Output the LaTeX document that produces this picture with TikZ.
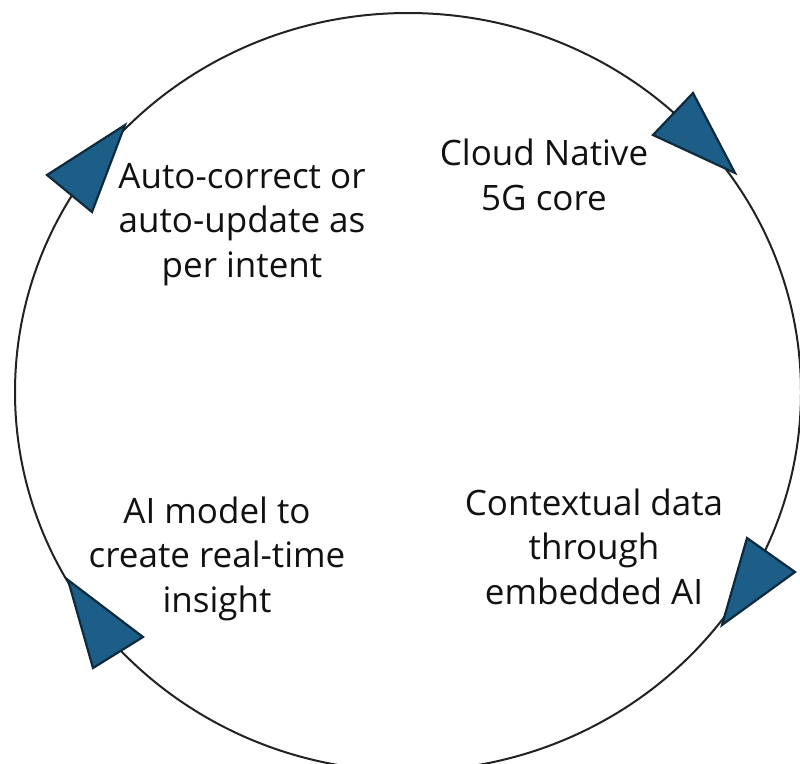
\documentclass[tikz,border=0pt]{standalone}
\usepackage{fontspec}
\setmainfont{Open Sans}
\definecolor{arrowblue}{HTML}{1D5E89}
\definecolor{arrowedge}{HTML}{0E2A3C}
\definecolor{ringline}{HTML}{222222}
\definecolor{txt}{HTML}{111111}
\begin{document}
\begin{tikzpicture}[x=1pt,y=-1pt,
  ring/.style={draw=ringline,line width=2pt},
  headtri/.style={fill=arrowblue,draw=arrowedge,line width=2.2pt,line join=miter},
  cyclabel/.style={align=center,font=\fontsize{35}{44.5}\selectfont,inner sep=0pt,text=txt}]
\useasboundingbox (0,0) rectangle (800,763);
\begin{scope}
  \clip (0,0) rectangle (800,763);
  \coordinate (ctr) at (408,392);
  \draw[ring] (ctr) ellipse [x radius=393pt, y radius=379pt];
\end{scope}
% arrowheads (clockwise)
\coordinate (tlA) at (125,125); \coordinate (tlB) at (47,175); \coordinate (tlC) at (92,212);
\coordinate (trA) at (735,173); \coordinate (trB) at (693,93); \coordinate (trC) at (653,135);
\coordinate (brA) at (722,625); \coordinate (brB) at (747,538); \coordinate (brC) at (795,572);
\coordinate (blA) at (68,580); \coordinate (blB) at (143,637); \coordinate (blC) at (93,668);
\draw[headtri] (tlA) -- (tlB) -- (tlC) -- cycle;
\draw[headtri] (trA) -- (trB) -- (trC) -- cycle;
\draw[headtri] (brA) -- (brB) -- (brC) -- cycle;
\draw[headtri] (blA) -- (blB) -- (blC) -- cycle;
% labels
\node[cyclabel] (auto) at (242,224.2) {Auto-correct or\\auto-update as\\per intent};
\node[cyclabel] (cloud) at (544,174.7) {Cloud Native\\5G core};
\node[cyclabel] (model) at (217,558.4) {AI model to\\create real-time\\insight};
\node[cyclabel] (ctx) at (594,546.7) {Contextual data\\through\\embedded AI};
\end{tikzpicture}
\end{document}
